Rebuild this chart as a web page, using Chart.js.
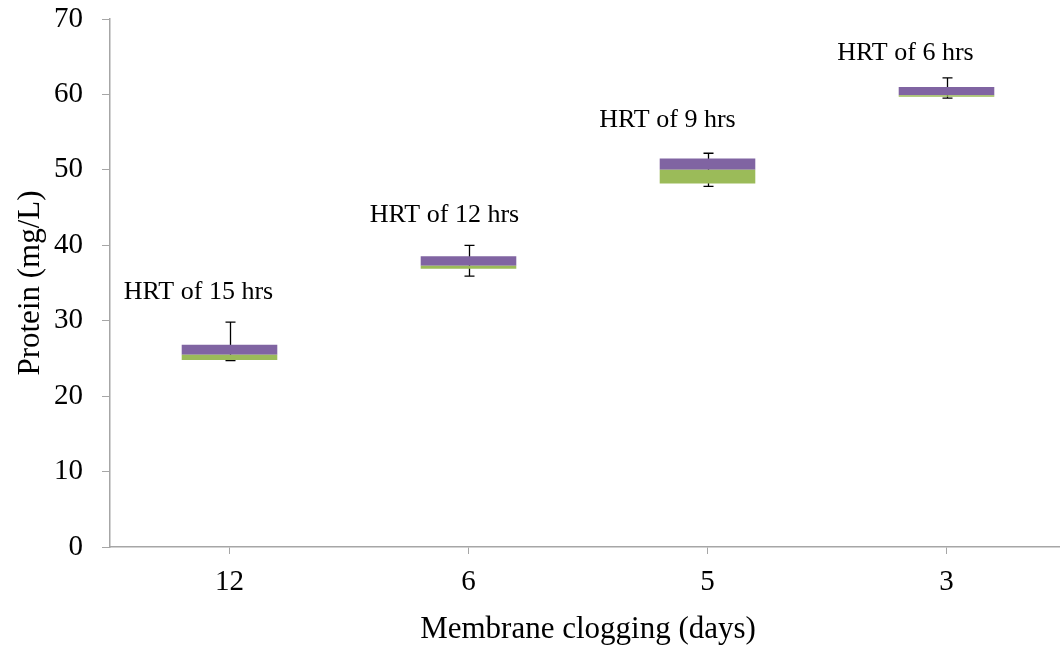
<!DOCTYPE html>
<html>
<head>
<meta charset="utf-8">
<script src="https://cdn.jsdelivr.net/npm/chart.js@4/dist/chart.umd.min.js"></script>
<style>
    html, body { margin: 0; padding: 0; background: #fff; overflow: hidden; }
    #chart { display: block; }
</style>
</head>
<body>
<canvas id="chart" width="1070" height="650"></canvas>
<script>
// Data
const categories = ['12', '6', '5', '3'];
const greenLow = [24.8, 36.9, 48.2, 59.7];
const greenHigh = [25.5, 37.3, 50.0, 59.9];
const purpleHigh = [26.8, 38.55, 51.5, 61.0];
const errorTop = [29.8, 40.0, 52.2, 62.2];
const errorBottom = [24.7, 35.9, 47.8, 59.5];
const hrtLabels = ['HRT of 15 hrs', 'HRT of 12 hrs', 'HRT of 9 hrs', 'HRT of 6 hrs'];
const yTicks = [0, 10, 20, 30, 40, 50, 60, 70];

const FONT = '"Liberation Serif", "Times New Roman", serif';
const AXIS_GREY = '#a6a6a6';

// error bars, drawn under the boxes
const errorBars = {
    id: 'errorBars',
    beforeDatasetsDraw(chart) {
        const { ctx, scales: { x, y } } = chart;
        ctx.save();
        ctx.strokeStyle = '#000';
        ctx.lineWidth = 1.3;
        categories.forEach((c, i) => {
            const px = Math.round(x.getPixelForValue(i)) + 0.5;
            const top = y.getPixelForValue(errorTop[i]);
            const bot = y.getPixelForValue(errorBottom[i]);
            ctx.beginPath();
            ctx.moveTo(px, top);
            ctx.lineTo(px, bot);
            ctx.moveTo(px - 5, top);
            ctx.lineTo(px + 5, top);
            ctx.moveTo(px - 5, bot);
            ctx.lineTo(px + 5, bot);
            ctx.stroke();
        });
        ctx.restore();
    }
};

// HRT text above each box (offsets in px, placed by hand like the original)
const hrtText = {
    id: 'hrtText',
    afterDatasetsDraw(chart) {
        const { ctx, scales: { x, y } } = chart;
        const dx = [-31, -24, -40, -41];
        const dy = [-23, -23, -26, -18];
        ctx.save();
        ctx.fillStyle = '#000';
        ctx.font = '26px ' + FONT;
        ctx.textAlign = 'center';
        ctx.textBaseline = 'alphabetic';
        hrtLabels.forEach((t, i) => {
            ctx.fillText(t, x.getPixelForValue(i) + dx[i], y.getPixelForValue(errorTop[i]) + dy[i]);
        });
        ctx.restore();
    }
};

new Chart(document.getElementById('chart'), {
    type: 'bar',
    data: {
        labels: categories,
        datasets: [
            {
                label: 'low',
                data: greenLow.map((v, i) => [v, greenHigh[i]]),
                backgroundColor: '#9bbb59',
                grouped: false,
                barPercentage: 0.4,
                categoryPercentage: 1
            },
            {
                label: 'high',
                data: greenHigh.map((v, i) => [v, purpleHigh[i]]),
                backgroundColor: '#8064a2',
                grouped: false,
                barPercentage: 0.4,
                categoryPercentage: 1
            }
        ]
    },
    options: {
        responsive: false,
        animation: false,
        layout: { padding: { top: 19, right: 4, left: 0, bottom: 0 } },
        plugins: {
            legend: { display: false },
            tooltip: { enabled: false }
        },
        scales: {
            x: {
                grid: { drawOnChartArea: false, offset: false, tickLength: 7, color: AXIS_GREY },
                border: { color: AXIS_GREY, width: 1.5 },
                ticks: { color: '#000', font: { family: FONT, size: 29 }, padding: 11 },
                title: {
                    display: true,
                    text: 'Membrane clogging (days)',
                    color: '#000',
                    font: { family: FONT, size: 31 },
                    padding: { top: 4, bottom: 2 }
                },
                afterFit(scale) { scale.height = 103; }
            },
            y: {
                min: 0,
                max: 70,
                afterBuildTicks(scale) { scale.ticks = yTicks.map(v => ({ value: v })); },
                grid: { drawOnChartArea: false, tickLength: 8, color: AXIS_GREY },
                border: { color: AXIS_GREY, width: 1.5 },
                ticks: { color: '#000', font: { family: FONT, size: 29 }, padding: 19 },
                title: {
                    display: true,
                    text: 'Protein (mg/L)',
                    color: '#000',
                    font: { family: FONT, size: 31 },
                    padding: { top: 12, bottom: 0 }
                },
                afterFit(scale) {
                    scale.width = 110;
                    // keep the layout padding as the only top gap
                    scale.paddingTop = 0;
                    scale.paddingBottom = 0;
                }
            }
        }
    },
    plugins: [errorBars, hrtText]
});
</script>
</body>
</html>
